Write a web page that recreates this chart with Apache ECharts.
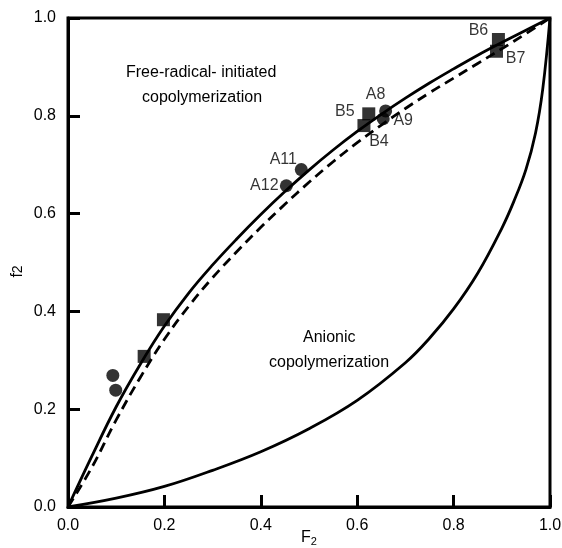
<!DOCTYPE html>
<html>
<head>
<meta charset="utf-8">
<script src="https://cdn.jsdelivr.net/npm/echarts@6/dist/echarts.min.js"></script>
<style>
html,body{margin:0;padding:0;background:#fff;}
#chart{width:562px;height:548px;}
</style>
</head>
<body>
<div id="chart"></div>
<script>
// ---- Data ----
const xTicks = [0, 0.2, 0.4, 0.6, 0.8, 1.0];
const yTicks = [0, 0.2, 0.4, 0.6, 0.8, 1.0];

// Free-radical copolymerization, solid curve
const solidF = [0, 0.05, 0.1, 0.15, 0.2, 0.25, 0.3, 0.35, 0.4, 0.45, 0.5, 0.55, 0.6, 0.65, 0.7, 0.75, 0.8, 0.85, 0.9, 0.95, 1.0];
const solidf = [0, 0.105, 0.205, 0.292, 0.37, 0.437, 0.495, 0.548, 0.598, 0.645, 0.689, 0.73, 0.768, 0.803, 0.836, 0.867, 0.896, 0.924, 0.95, 0.975, 1.0];

// Free-radical copolymerization, dashed curve
const dashF = [0, 0.05, 0.1, 0.15, 0.2, 0.25, 0.3, 0.35, 0.4, 0.45, 0.5, 0.55, 0.6, 0.65, 0.7, 0.75, 0.8, 0.85, 0.9, 0.95, 1.0];
const dashf = [0, 0.082, 0.178, 0.265, 0.343, 0.41, 0.469, 0.522, 0.572, 0.619, 0.664, 0.706, 0.745, 0.781, 0.815, 0.847, 0.877, 0.907, 0.937, 0.968, 1.0];

// Anionic copolymerization curve
const anionF = [0, 0.1, 0.2, 0.3, 0.4, 0.5, 0.6, 0.7, 0.75, 0.8, 0.85, 0.9, 0.925, 0.95, 0.97, 0.985, 1.0];
const anionf = [0, 0.018, 0.042, 0.075, 0.113, 0.16, 0.218, 0.295, 0.345, 0.405, 0.478, 0.57, 0.625, 0.69, 0.765, 0.855, 1.0];

// Experimental points
const circleF = [0.093, 0.099, 0.453, 0.484, 0.659, 0.654];
const circlef = [0.269, 0.239, 0.657, 0.690, 0.810, 0.794];
const circleNames = ['', '', 'A12', 'A11', 'A8', 'A9'];

const squareF = [0.158, 0.198, 0.614, 0.624, 0.893, 0.889];
const squaref = [0.308, 0.383, 0.780, 0.804, 0.956, 0.932];
const squareNames = ['', '', 'B4', 'B5', 'B6', 'B7'];

// ---- Presentation ----
const FONT = '"Liberation Sans", Arial, sans-serif';
const labelOffsets = {
  A12: [-22, 0], A11: [-18, -10], A8: [-10, -16], A9: [20, 2],
  B4: [15, 16], B5: [-24, -2], B6: [-20, -9], B7: [19, 7]
};

function pairs(xs, ys) { return xs.map((x, i) => [x, ys[i]]); }
function pointData(xs, ys, names) {
  return xs.map((x, i) => {
    const n = names[i];
    const item = { value: [x, ys[i]] };
    if (n) {
      item.label = {
        show: true, formatter: n, position: 'inside',
        offset: labelOffsets[n], align: 'center', verticalAlign: 'middle',
        color: '#000', fontSize: 16, fontFamily: FONT
      };
    }
    return item;
  });
}

const chart = echarts.init(document.getElementById('chart'), null, { renderer: 'canvas' });
const axisCommon = {
  type: 'value', min: 0, max: 1, interval: 0.2,
  axisLine: { show: true, lineStyle: { color: '#000', width: 3 } },
  axisTick: { show: true, inside: true, length: 12, lineStyle: { color: '#000', width: 3 } },
  splitLine: { show: false },
  nameMoveOverlap: false,
  axisLabel: { color: '#000', fontSize: 16, fontFamily: FONT, formatter: v => v.toFixed(1) }
};

chart.setOption({
  animation: false,
  backgroundColor: '#fff',
  grid: { left: 68, right: 12, top: 18, bottom: 41, containLabel: false, outerBoundsMode: 'none',
          show: true, borderColor: '#000', borderWidth: 3 },
  xAxis: Object.assign({}, axisCommon, {
    name: '{a|F}{b|2}', nameLocation: 'middle', nameGap: 22,
    nameTextStyle: { rich: { a: { fontSize: 16, fontFamily: FONT, color: '#000' }, b: { fontSize: 11, fontFamily: FONT, color: '#000', verticalAlign: 'bottom', padding: [7, 0, 0, 0] } } },
    axisLabel: Object.assign({}, axisCommon.axisLabel, { margin: 11 })
  }),
  yAxis: Object.assign({}, axisCommon, {
    name: '{a|f}{b|2}', nameLocation: 'middle', nameGap: 42, nameRotate: 90,
    nameTextStyle: { padding: [0, 18, 0, 0], rich: { a: { fontSize: 16, fontFamily: FONT, color: '#000' }, b: { fontSize: 14, fontFamily: FONT, color: '#000' } } },
    axisLabel: Object.assign({}, axisCommon.axisLabel, { margin: 12 })
  }),
  series: [
    { type: 'line', data: pairs(solidF, solidf), smooth: 0.4, showSymbol: false, lineStyle: { color: '#000', width: 2.8 }, z: 3 },
    { type: 'line', data: pairs(dashF, dashf), smooth: 0.4, showSymbol: false, lineStyle: { color: '#000', width: 2.8, type: [10, 6] }, z: 3 },
    { type: 'line', data: pairs(anionF, anionf), smooth: 0.4, showSymbol: false, lineStyle: { color: '#000', width: 2.8 }, z: 3 },
    { type: 'scatter', data: pointData(circleF, circlef, circleNames), symbol: 'circle', symbolSize: 13, itemStyle: { color: '#000' }, z: 5 },
    { type: 'scatter', data: pointData(squareF, squaref, squareNames), symbol: 'rect', symbolSize: 13, itemStyle: { color: '#000' }, z: 5 }
  ],
  graphic: [
    { type: 'text', left: 126, top: 65, style: { text: 'Free-radical- initiated', fontSize: 16, fontFamily: FONT, fill: '#000' } },
    { type: 'text', left: 142, top: 90, style: { text: 'copolymerization', fontSize: 16, fontFamily: FONT, fill: '#000' } },
    { type: 'text', left: 303, top: 330, style: { text: 'Anionic', fontSize: 16, fontFamily: FONT, fill: '#000' } },
    { type: 'text', left: 269, top: 355, style: { text: 'copolymerization', fontSize: 16, fontFamily: FONT, fill: '#000' } }
  ]
});
</script>
</body>
</html>
